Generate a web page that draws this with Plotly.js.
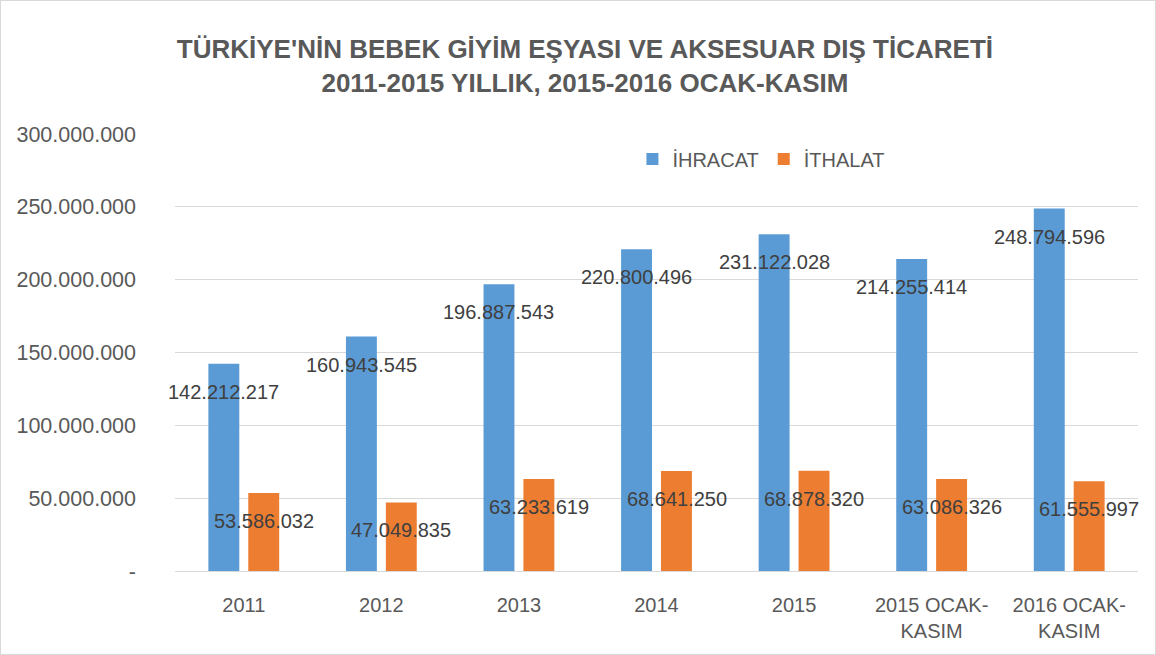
<!DOCTYPE html>
<html><head><meta charset="utf-8">
<script src="https://cdn.plot.ly/plotly-3.0.1.min.js"></script>
<style>body{margin:0;background:#fff}#c{width:1154px;height:653px;border:1px solid #d9d9d9}</style>
</head><body><div id="c"></div>
<script>
const categories = ['2011','2012','2013','2014','2015','2015 OCAK-KASIM','2016 OCAK-KASIM'];
const tickLabels = ['2011','2012','2013','2014','2015','2015 OCAK-<br>KASIM','2016 OCAK-<br>KASIM'];
const ihracat = [142212217,160943545,196887543,220800496,231122028,214255414,248794596];
const ithalat = [53586032,47049835,63233619,68641250,68878320,63086326,61555997];
const yTicks = [0,50000000,100000000,150000000,200000000,250000000,300000000];
const yTickText = ['-','50.000.000','100.000.000','150.000.000','200.000.000','250.000.000','300.000.000'];
const fmt = v => String(v).replace(/\B(?=(\d{3})+(?!\d))/g,'.');
const FONT = 'Liberation Sans, Arial, sans-serif';
const traces = [
  {type:'bar',name:'İHRACAT',x:categories,y:ihracat,marker:{color:'#5B9BD5'},hoverinfo:'none'},
  {type:'bar',name:'İTHALAT',x:categories,y:ithalat,marker:{color:'#ED7D31'},hoverinfo:'none'}
];
const annotations = [];
[[ihracat,-20],[ithalat,20]].forEach(([arr,dx])=>{
  arr.forEach((v,i)=>annotations.push({x:i,y:v,xref:'x',yref:'y',text:fmt(v),showarrow:false,
    xshift:dx,yshift:-28,font:{family:FONT,size:20,color:'#404040'}}));
});
const layout = {
  width:1154,height:653,
  margin:{l:174,r:17,t:133,b:83},
  paper_bgcolor:'#fff',plot_bgcolor:'#fff',
  title:{text:"<b>TÜRKİYE'NİN BEBEK GİYİM EŞYASI VE AKSESUAR DIŞ TİCARETİ<br>2011-2015 YILLIK, 2015-2016 OCAK-KASIM</b>",
    font:{family:'Liberation Sans Narrow, Liberation Sans, sans-serif',size:26,color:'#595959'},x:0.506,xanchor:'center',y:0.912,yanchor:'middle'},
  bargap:0.42,bargroupgap:0.225,barmode:'group',
  xaxis:{type:'category',categoryorder:'array',categoryarray:categories,range:[-0.5,6.5],autorange:false,
    tickvals:categories,ticktext:tickLabels,showgrid:false,showline:true,linecolor:'#d9d9d9',linewidth:1,ticks:'',
    ticklabelstandoff:16,tickfont:{family:FONT,size:20,color:'#595959'}},
  yaxis:{range:[0,300000000],autorange:false,tickvals:yTicks,ticktext:yTickText,showgrid:true,gridcolor:'#d9d9d9',
    zeroline:false,showline:false,ticks:'',ticklabelstandoff:38,tickfont:{family:FONT,size:21.5,color:'#595959'}},
  legend:{orientation:'h',x:0.475,y:0.943,xanchor:'left',yanchor:'middle',font:{family:FONT,size:20,color:'#595959'},bgcolor:'rgba(0,0,0,0)'},
  annotations:annotations,
  showlegend:true
};
Plotly.newPlot('c',traces,layout,{displayModeBar:false,staticPlot:true});
</script></body></html>
